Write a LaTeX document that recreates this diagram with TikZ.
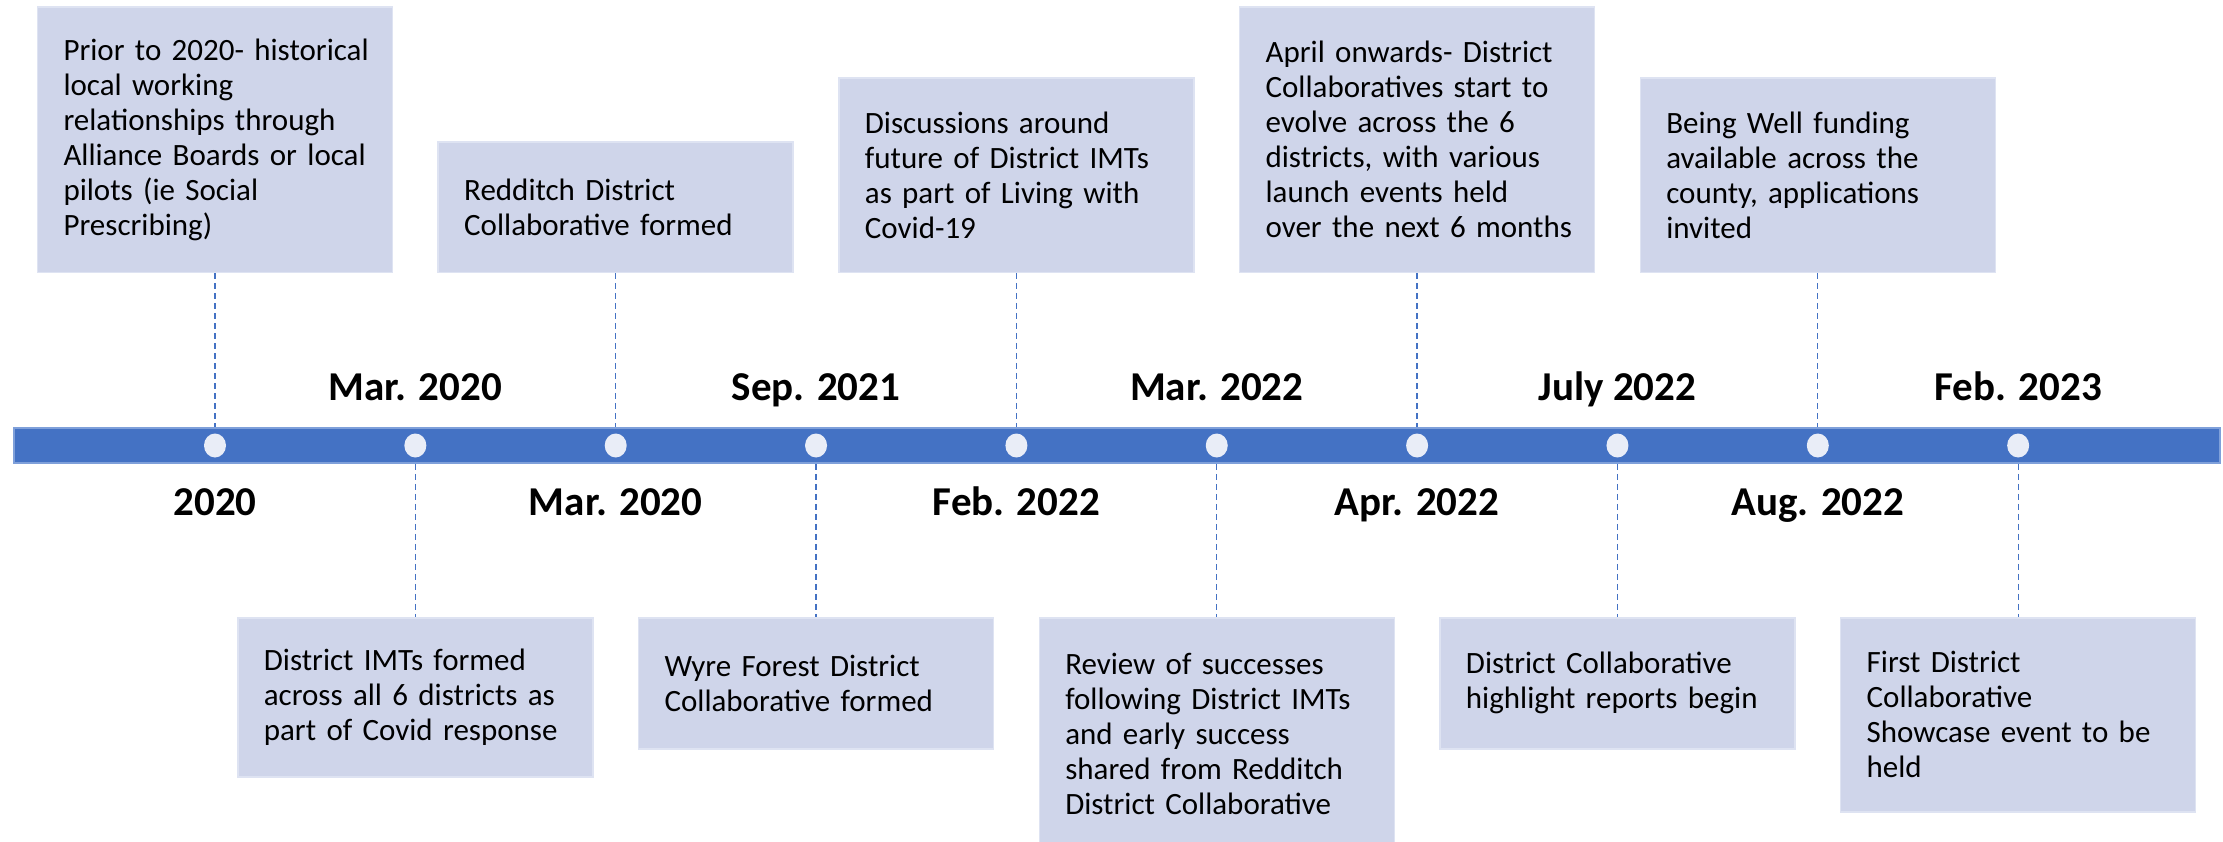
\documentclass[tikz,border=0pt]{standalone}
\usepackage{fontspec}
\setmainfont{Carlito}
\usetikzlibrary{shapes.geometric}
\definecolor{barblue}{HTML}{4472C4}
\definecolor{barline}{HTML}{7FA0DA}
\definecolor{boxfill}{RGB}{207,213,234}
\definecolor{boxline}{RGB}{222,227,242}
\definecolor{dotfill}{RGB}{233,237,247}
\newcommand\bt[1]{\leftskip=13pt\relax #1\par}
\begin{document}
\begin{tikzpicture}[x=1pt,y=-1pt,
  evbox/.style={draw=boxline, fill=boxfill, line width=1.5pt, minimum width=355pt,
    text width=329pt, inner xsep=13pt, inner ysep=0pt, align=left,
    font=\fontsize{31}{35}\selectfont},
  topbox/.style={evbox, anchor=south},
  botbox/.style={evbox, anchor=north},
  tdot/.style={ellipse, fill=dotfill, draw=none, minimum width=22pt, minimum height=24pt, inner sep=0pt},
  datelbl/.style={anchor=base, font=\fontsize{41}{45}\selectfont\bfseries, inner sep=0pt},
  leader/.style={draw=barblue, line width=1.3pt, dash pattern=on 6pt off 4pt}
]
\useasboundingbox (0,0) rectangle (2223,842);

% timeline bar
\node[draw=barline, fill=barblue, line width=1.5pt, minimum width=2206pt, minimum height=35pt, inner sep=0pt] (bar) at (1117,445.5) {};

% dots
\foreach \i in {0,...,9} {
  \node[tdot] (d\i) at ({215+200.35*\i},445.5) {};
}

% top boxes
\node[topbox, minimum height=265pt] (t0) at (215,273) {\bt{Prior to 2020- historical\\local working\\relationships through\\Alliance Boards or local\\pilots (ie Social\\Prescribing)}};
\node[topbox, minimum height=130pt] (t2) at (615.7,273) {\bt{Redditch District\\Collaborative formed}};
\node[topbox, minimum height=194pt] (t4) at (1016.4,273) {\bt{Discussions around\\future of District IMTs\\as part of Living with\\Covid-19}};
\node[topbox, minimum height=265pt] (t6) at (1417.1,273) {\bt{April onwards- District\\Collaboratives start to\\evolve across the 6\\districts, with various\\launch events held\\over the next 6 months}};
\node[topbox, minimum height=194pt] (t8) at (1817.8,273) {\bt{Being Well funding\\available across the\\county, applications\\invited}};

% bottom boxes
\node[botbox, minimum height=159pt] (b1) at (415.35,617) {\bt{District IMTs formed\\across all 6 districts as\\part of Covid response}};
\node[botbox, minimum height=131pt] (b3) at (816.05,617) {\bt{Wyre Forest District\\Collaborative formed}};
\node[botbox, minimum height=233pt] (b5) at (1216.75,617) {\bt{Review of successes\\following District IMTs\\and early success\\shared from Redditch\\District Collaborative}};
\node[botbox, minimum height=131pt] (b7) at (1617.45,617) {\bt{District Collaborative\\highlight reports begin}};
\node[botbox, minimum height=194pt] (b9) at (2018.15,617) {\bt{First District\\Collaborative\\Showcase event to be\\held}};

% leaders
\foreach \n in {t0,t2,t4,t6,t8} {
  \draw[leader] (\n.south) -- (\n.south |- bar.north);
}
\foreach \n in {b1,b3,b5,b7,b9} {
  \draw[leader] (\n.north |- bar.south) -- (\n.north);
}

% date labels above
\node[datelbl] (l1) at (415.35,400) {Mar. 2020};
\node[datelbl] (l3) at (816.05,400) {Sep. 2021};
\node[datelbl] (l5) at (1216.75,400) {Mar. 2022};
\node[datelbl] (l7) at (1617.45,400) {July 2022};
\node[datelbl] (l9) at (2018.15,400) {Feb. 2023};
% date labels below
\node[datelbl] (l0) at (215,515) {2020};
\node[datelbl] (l2) at (615.7,515) {Mar. 2020};
\node[datelbl] (l4) at (1016.4,515) {Feb. 2022};
\node[datelbl] (l6) at (1417.1,515) {Apr. 2022};
\node[datelbl] (l8) at (1817.8,515) {Aug. 2022};
\end{tikzpicture}
\end{document}
